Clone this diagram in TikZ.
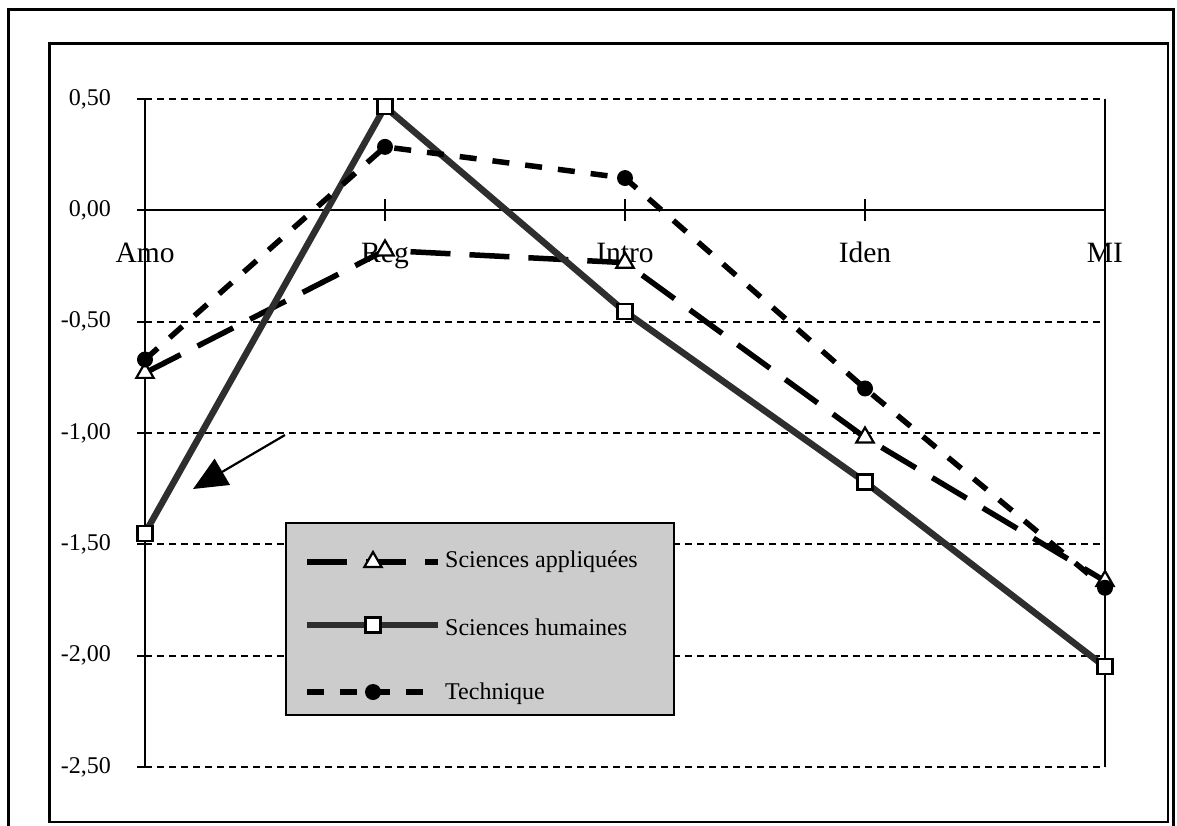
\documentclass[tikz,border=0pt]{standalone}
\usepackage{fontspec}
\setmainfont{Liberation Serif}
\usetikzlibrary{arrows.meta,shapes.geometric}
\begin{document}
\begin{tikzpicture}[x=1pt,y=-1pt,
  outerframe/.style={draw=black,line width=3pt},
  innerframe/.style={draw=black,line width=2.5pt},
  axisline/.style={draw=black,line width=2pt},
  gridline/.style={draw=black,line width=2pt,dash pattern=on 7pt off 5pt},
  ylab/.style={anchor=east,inner sep=0pt,font=\fontsize{24}{28}\selectfont},
  catlab/.style={anchor=base,inner sep=0pt,font=\fontsize{29.5}{34}\selectfont},
  legtext/.style={anchor=west,inner sep=0pt,font=\fontsize{24}{28}\selectfont},
  applstyle/.style={draw=black,line width=5.5pt,dash pattern=on 40pt off 19pt},
  humstyle/.style={draw=black!82,line width=6.5pt},
  techstyle/.style={draw=black,line width=5.5pt,dash pattern=on 17pt off 16pt},
  trimark/.style={regular polygon,regular polygon sides=3,draw=black,fill=white,
    line width=2.2pt,minimum size=20pt,inner sep=0pt},
  sqmark/.style={rectangle,draw=black,fill=white,line width=2.2pt,
    minimum size=15pt,inner sep=0pt},
  dotmark/.style={circle,fill=black,minimum size=16pt,inner sep=0pt},
  legbox/.style={draw=black,line width=2pt,fill=black!20},
  pointer/.style={draw=black,line width=2.2pt,-{Triangle[length=34pt,width=30pt]}}
]
\useasboundingbox (0,0) rectangle (1177,825);

% outer and inner frames
\draw[outerframe] (8.5,830) -- (8.5,9) -- (1173,9) -- (1173,830);
\draw[innerframe] (49.5,43.5) rectangle (1168,822);

% plot area in data units: x = category index, y = value
\begin{scope}[shift={(145pt,-210.33pt)},x=240pt,y=222.67pt]
  % horizontal grid lines
  \foreach \v in {0.5,-0.5,-1,-1.5,-2,-2.5}{
    \draw[gridline] (0,\v) -- (4,\v);
  }
  % left ticks and value labels
  \foreach \v/\t/\n in {0.5/{0,50}/a,0/{0,00}/b,-0.5/{-0,50}/c,-1/{-1,00}/d,-1.5/{-1,50}/e,-2/{-2,00}/f,-2.5/{-2,50}/g}{
    \draw[axisline] ([xshift=-8pt]0,\v) -- (0,\v);
    \node[ylab] (ylab\n) at ([xshift=-34pt]0,\v) {\t};
  }
  % axes and right border
  \draw[axisline] (0,0.5) -- (0,-2.5);
  \draw[axisline] (4,0.5) -- (4,-2.5);
  \draw[axisline] (0,0) -- (4,0);
  \foreach \i in {1,2,3}{
    \draw[axisline] ([yshift=11pt]\i,0) -- ([yshift=-11pt]\i,0);
  }
  % category labels
  \node[catlab] (catAmo) at (0,-0.2365) {Amo};
  \node[catlab] (catReg) at (1,-0.2365) {Reg};
  \node[catlab] (catIntro) at (2,-0.2365) {Intro};
  \node[catlab] (catIden) at (3,-0.2365) {Iden};
  \node[catlab] (catMI) at (4,-0.2365) {MI};

  % data points
  \coordinate (a0) at (0,-0.73);
  \coordinate (a1) at (1,-0.18);
  \coordinate (a2) at (2,-0.235);
  \coordinate (a3) at (3,-1.02);
  \coordinate (a4) at (4,-1.665);
  \coordinate (h0) at (0,-1.45);
  \coordinate (h1) at (1,0.465);
  \coordinate (h2) at (2,-0.455);
  \coordinate (h3) at (3,-1.22);
  \coordinate (h4) at (4,-2.05);
  \coordinate (t0) at (0,-0.67);
  \coordinate (t1) at (1,0.285);
  \coordinate (t2) at (2,0.145);
  \coordinate (t3) at (3,-0.80);
  \coordinate (t4) at (4,-1.695);

  % Sciences appliquees
  \draw[applstyle] (a0) -- (a1) -- (a2) -- (a3) -- (a4);
  \foreach \k in {0,...,4}{\node[trimark] (ma\k) at (a\k) {};}
  % Sciences humaines
  \draw[humstyle] (h0) -- (h1) -- (h2) -- (h3) -- (h4);
  \foreach \k in {0,...,4}{\node[sqmark] (mh\k) at (h\k) {};}
  % Technique
  \draw[techstyle] (t0) -- (t1) -- (t2) -- (t3) -- (t4);
  \foreach \k in {0,...,4}{\node[dotmark] (mt\k) at (t\k) {};}
\end{scope}

% pointer arrow
\coordinate (arrowstart) at (285,435);
\coordinate (arrowend) at (193,489);
\draw[pointer] (arrowstart) -- (arrowend);

% legend
\node[legbox,minimum width=388pt,minimum height=192pt,anchor=north west,inner sep=0pt] (legend) at (285,522) {};
\coordinate (la0) at (307,562); \coordinate (la1) at (438,562);
\coordinate (lh0) at (307,625); \coordinate (lh1) at (438,625);
\coordinate (lt0) at (307,692); \coordinate (lt1) at (438,692);
\draw[applstyle] (la0) -- (la1);
\node[trimark] (lma) at (373,562) {};
\draw[humstyle] (lh0) -- (lh1);
\node[sqmark] (lmh) at (373,625) {};
\draw[techstyle] (lt0) -- (lt1);
\node[dotmark] (lmt) at (373,692) {};
\node[legtext] (lta) at (445,562) {Sciences appliquées};
\node[legtext] (lth) at (445,627) {Sciences humaines};
\node[legtext] (ltt) at (445,694) {Technique};
\end{tikzpicture}
\end{document}
